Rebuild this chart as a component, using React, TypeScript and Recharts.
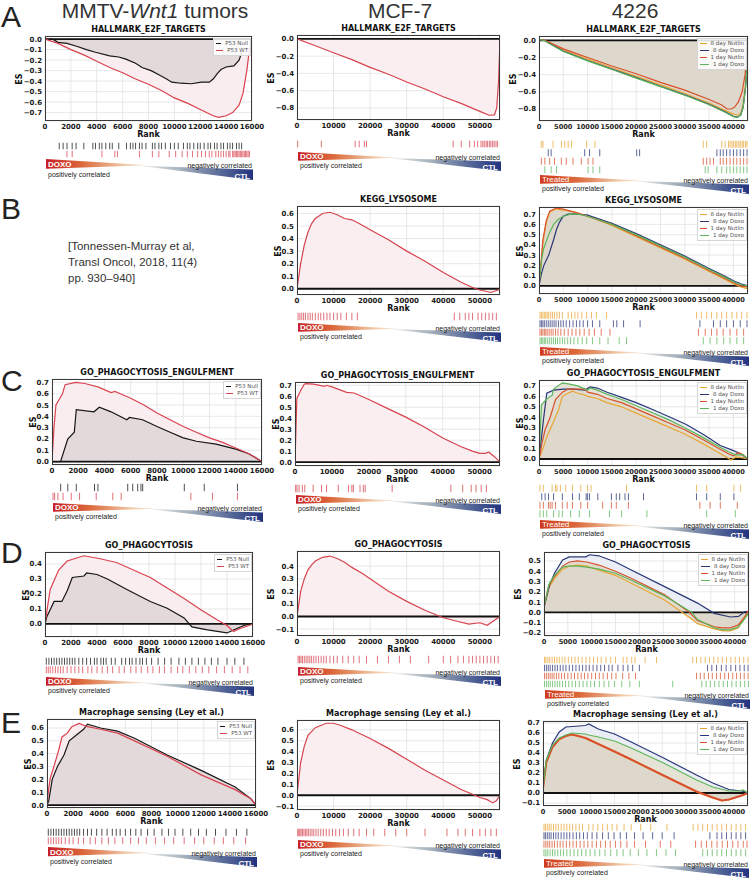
import React from "react";
import {
  ComposedChart,
  Area,
  Line,
  XAxis,
  YAxis,
  CartesianGrid,
  ReferenceLine,
  ScatterChart,
  Scatter,
} from "recharts";

type Pt = [number, number];

// tick labels
const col1Ticks = [0, 2000, 4000, 6000, 8000, 10000, 12000, 14000, 16000];
const col2Ticks = [0, 10000, 20000, 30000, 40000, 50000];
const col3Ticks = [0, 5000, 10000, 15000, 20000, 25000, 30000, 35000, 40000];

// ---------- A: HALLMARK_E2F_TARGETS ----------
const e2fWnt1Null: Pt[] = [[0, 0], [600, 0], [1000, -0.03], [1700, -0.04], [2500, -0.07], [3200, -0.1], [3900, -0.125], [5000, -0.16], [5700, -0.17], [6250, -0.19], [7000, -0.23], [7500, -0.27], [8200, -0.3], [8800, -0.34], [9400, -0.38], [9800, -0.41], [10500, -0.42], [11300, -0.425], [12100, -0.41], [12700, -0.41], [13000, -0.38], [13300, -0.33], [13600, -0.29], [14000, -0.265], [14600, -0.255], [15000, -0.2], [15200, -0.13]];
const e2fWnt1Wt: Pt[] = [[0, 0], [1000, -0.04], [2000, -0.1], [3000, -0.15], [4000, -0.21], [5000, -0.27], [6000, -0.32], [7000, -0.38], [8000, -0.43], [9000, -0.49], [10000, -0.56], [11000, -0.61], [12000, -0.67], [13000, -0.73], [13400, -0.745], [14000, -0.73], [14500, -0.7], [15000, -0.63], [15300, -0.52], [15600, -0.3], [15800, -0.1], [16000, 0]];
const e2fWnt1NullHits = [1100, 1400, 1700, 2100, 2400, 3000, 3700, 3900, 4200, 4400, 4700, 5000, 5200, 5700, 6300, 6600, 6800, 7000, 7300, 7500, 7800, 8300, 8500, 8800, 9000, 9300, 9700, 10000, 10300, 10700, 11000, 11200, 11500, 11800, 12000, 12300, 12600, 12800, 13100, 13300, 13600, 13800, 14100, 14300, 14500, 14800, 15000, 15200];
const e2fWnt1WtHits = [1700, 2100, 4400, 5400, 5600, 7300, 8300, 8800, 9600, 10100, 10600, 11000, 11400, 11800, 12100, 12400, 12700, 12900, 13200, 13400, 13600, 13800, 14000, 14200, 14300, 14500, 14600, 14700, 14800, 14900, 15000, 15100, 15200, 15300, 15400, 15500, 15600, 15700, 15800];

const e2fMcf7: Pt[] = [[0, 0], [5000, -0.08], [10000, -0.16], [15000, -0.24], [20000, -0.33], [25000, -0.41], [30000, -0.5], [35000, -0.58], [40000, -0.67], [45000, -0.75], [50000, -0.84], [52500, -0.885], [54000, -0.88], [54600, -0.8], [55100, -0.5], [55500, 0]];
const e2fMcf7Hits = [180, 6660, 15900, 17000, 18400, 19000, 42700, 44900, 47200, 48500, 49400, 50300, 50800, 51200, 51700, 52100, 52600, 53000, 53500, 53900, 54400, 54800];

const e2f4226N8: Pt[] = [[0, 0.01], [1000, 0], [2000, -0.025], [5000, -0.11], [10000, -0.22], [15000, -0.32], [20000, -0.42], [25000, -0.52], [30000, -0.62], [35000, -0.73], [38000, -0.81], [40000, -0.86], [40800, -0.87], [41500, -0.85], [42000, -0.75], [42500, -0.5], [42800, -0.25], [43000, -0.02]];
const e2f4226D8: Pt[] = [[0, 0.01], [1000, 0], [2000, -0.03], [5000, -0.125], [10000, -0.235], [15000, -0.335], [20000, -0.435], [25000, -0.535], [30000, -0.635], [35000, -0.745], [38000, -0.825], [40000, -0.885], [40800, -0.895], [41500, -0.87], [42000, -0.78], [42500, -0.55], [42800, -0.3], [43000, -0.05]];
const e2f4226N1: Pt[] = [[0, 0.01], [1000, 0.005], [2000, -0.02], [5000, -0.1], [10000, -0.2], [15000, -0.3], [20000, -0.39], [25000, -0.49], [30000, -0.58], [35000, -0.69], [37500, -0.75], [38700, -0.8], [39500, -0.8], [40200, -0.78], [41000, -0.72], [41800, -0.6], [42400, -0.4], [43000, -0.02]];
const e2f4226D1: Pt[] = [[0, 0.01], [1000, 0], [2000, -0.035], [5000, -0.13], [10000, -0.24], [15000, -0.34], [20000, -0.44], [25000, -0.54], [30000, -0.64], [35000, -0.75], [38000, -0.83], [40000, -0.89], [40800, -0.9], [41500, -0.87], [42000, -0.78], [42500, -0.55], [42800, -0.3], [43000, -0.05]];
const e2f4226N8Hits = [480, 820, 2900, 4600, 5300, 6000, 6700, 9800, 11500, 33800, 34500, 37600, 38300, 39000, 39300, 39700, 40000, 40400, 40700, 41100, 41400, 41800, 42100, 42500, 42800];
const e2f4226D8Hits = [1900, 2500, 9400, 10400, 12500, 20100, 20700, 36600, 37300, 37900, 38600, 39300, 40000, 40700, 41400, 42100, 42800];
const e2f4226N1Hits = [480, 1200, 2200, 3200, 4600, 5600, 7000, 8700, 10100, 11100, 33800, 34500, 35200, 35900, 37300, 37900, 38600, 39300, 40000, 40700, 41400, 42100, 42800];
const e2f4226D1Hits = [1200, 2500, 3600, 10100, 11100, 12500, 34200, 34800, 36600, 37600, 38600, 39300, 40000, 40700, 41400, 42100, 42800];

// ---------- B: KEGG_LYSOSOME ----------
const lysoMcf7: Pt[] = [[0, 0], [1000, 0.2], [2000, 0.35], [3000, 0.45], [4000, 0.52], [5000, 0.56], [7000, 0.6], [9000, 0.61], [11000, 0.59], [13000, 0.56], [15000, 0.55], [17000, 0.52], [20000, 0.47], [25000, 0.39], [30000, 0.3], [35000, 0.22], [40000, 0.13], [45000, 0.05], [48000, 0.01], [50000, -0.01], [53000, -0.03], [55000, -0.01], [55500, 0]];
const lysoMcf7Hits = [300, 800, 1300, 1800, 2300, 3000, 3600, 4200, 5000, 5800, 6500, 7300, 8200, 9000, 10000, 11000, 12000, 13500, 15000, 16500, 43000, 44500, 46000, 47000, 48000, 49500, 50500, 51500, 52500, 53500, 54500];

const lyso4226N8: Pt[] = [[0, 0], [400, 0.2], [800, 0.42], [1500, 0.62], [2200, 0.72], [3500, 0.75], [5000, 0.74], [6500, 0.73], [8000, 0.71], [10000, 0.68], [15000, 0.59], [20000, 0.48], [25000, 0.37], [30000, 0.26], [35000, 0.14], [38000, 0.07], [40000, 0.02], [41500, -0.01], [43000, -0.03]];
const lyso4226D8: Pt[] = [[0, 0], [500, 0.12], [1000, 0.2], [2000, 0.3], [3000, 0.45], [3600, 0.55], [4200, 0.62], [5000, 0.68], [6000, 0.7], [8000, 0.7], [10000, 0.69], [15000, 0.61], [20000, 0.51], [25000, 0.4], [30000, 0.29], [35000, 0.17], [38000, 0.1], [40000, 0.05], [41500, 0.02], [43000, 0]];
const lyso4226N1: Pt[] = [[0, 0], [400, 0.22], [800, 0.45], [1500, 0.64], [2200, 0.73], [3500, 0.76], [5000, 0.75], [6500, 0.73], [8000, 0.71], [10000, 0.68], [15000, 0.6], [20000, 0.49], [25000, 0.38], [30000, 0.27], [35000, 0.15], [38000, 0.08], [40000, 0.03], [41500, 0], [43000, -0.01]];
const lyso4226D1: Pt[] = [[0, 0], [500, 0.25], [1000, 0.37], [2000, 0.5], [3000, 0.6], [4000, 0.65], [5000, 0.68], [6500, 0.7], [8000, 0.7], [10000, 0.68], [15000, 0.6], [20000, 0.5], [25000, 0.39], [30000, 0.28], [35000, 0.16], [38000, 0.09], [40000, 0.04], [41500, 0.01], [43000, 0]];
const lyso4226N8Hits = [200, 500, 800, 1100, 1400, 1700, 2000, 2400, 2800, 3200, 3700, 4200, 4800, 6000, 6700, 7400, 8000, 8800, 9800, 10800, 11800, 13900, 32400, 33400, 34500, 35500, 36600, 37600, 38600, 39700, 40700, 41700, 42800];
const lyso4226D8Hits = [200, 500, 800, 1100, 1500, 1900, 2300, 2700, 3100, 3500, 4000, 4500, 5000, 5600, 6300, 7000, 7700, 8400, 9100, 10000, 11000, 12500, 15300, 16000, 17400, 20800, 33100, 35900, 37300, 38600, 40000, 41400, 42800];
const lyso4226N1Hits = [200, 500, 800, 1100, 1400, 1700, 2100, 2500, 2900, 3400, 3900, 4500, 5200, 6000, 6800, 7600, 8400, 9300, 10300, 11400, 12800, 14600, 32800, 34200, 35500, 36600, 37900, 39300, 40700, 42100];
const lyso4226D1Hits = [200, 500, 800, 1100, 1400, 1800, 2200, 2600, 3000, 3400, 3800, 4300, 4800, 5300, 5900, 6500, 7200, 8000, 8900, 9800, 11000, 12500, 14200, 16500, 18000, 33800, 35200, 36600, 38000, 39300, 40700, 42100];

// ---------- C: GO_PHAGOCYTOSIS_ENGULFMENT ----------
const engWnt1Null: Pt[] = [[0, 0], [650, 0], [1200, 0.2], [1700, 0.26], [1850, 0.46], [3200, 0.44], [3600, 0.48], [4500, 0.44], [5700, 0.37], [5900, 0.39], [6900, 0.37], [8000, 0.31], [9000, 0.26], [10000, 0.21], [11000, 0.18], [12500, 0.155], [14000, 0.11], [15000, 0.07], [16000, 0]];
const engWnt1Wt: Pt[] = [[0, 0], [150, 0.3], [300, 0.5], [800, 0.6], [1000, 0.68], [1800, 0.7], [2500, 0.69], [3500, 0.66], [4500, 0.61], [4800, 0.62], [5200, 0.6], [6000, 0.56], [7000, 0.5], [8000, 0.43], [9000, 0.37], [10000, 0.31], [11000, 0.26], [12000, 0.21], [13000, 0.17], [14000, 0.12], [15000, 0.07], [16000, 0]];
const engWnt1NullHits = [660, 1200, 1850, 3240, 3500, 5770, 6150, 6530, 6780, 6910, 10080, 11600, 14130];
const engWnt1WtHits = [80, 200, 450, 840, 1470, 2100, 3370, 4630, 5270, 10580, 12230, 14130];

const engMcf7: Pt[] = [[0, 0], [500, 0.58], [1500, 0.65], [2500, 0.71], [3000, 0.715], [5000, 0.71], [8000, 0.69], [8500, 0.7], [10000, 0.685], [12000, 0.66], [14000, 0.635], [16000, 0.63], [18000, 0.6], [20000, 0.57], [25000, 0.49], [30000, 0.41], [35000, 0.32], [40000, 0.22], [45000, 0.14], [48000, 0.1], [50000, 0.08], [51500, 0.08], [52500, 0.09], [54000, 0.05], [55500, 0]];
const engMcf7Hits = [180, 550, 1100, 2000, 2640, 4900, 7190, 8550, 11700, 14500, 15400, 15800, 17600, 18500, 19000, 26300, 42200, 45400, 47700, 49000, 50400, 51800];

const eng4226N8: Pt[] = [[0, 0], [800, 0.1], [1600, 0.21], [3000, 0.36], [4000, 0.47], [4800, 0.6], [5500, 0.62], [6900, 0.65], [8000, 0.63], [9000, 0.62], [10000, 0.6], [12000, 0.58], [14000, 0.54], [17000, 0.5], [20000, 0.44], [23000, 0.38], [26500, 0.31], [30000, 0.24], [34000, 0.14], [37000, 0.06], [38500, 0.02], [39500, -0.01], [40500, 0.02], [42000, 0.01], [43000, 0]];
const eng4226D8: Pt[] = [[0, 0], [500, 0.2], [900, 0.37], [1600, 0.63], [3000, 0.66], [5000, 0.67], [7000, 0.67], [9500, 0.66], [10500, 0.69], [12000, 0.68], [14000, 0.64], [17000, 0.59], [20000, 0.54], [23600, 0.47], [27000, 0.4], [30300, 0.33], [34000, 0.23], [37300, 0.13], [40000, 0.08], [41500, 0.05], [43000, 0]];
const eng4226N1: Pt[] = [[0, 0], [600, 0.15], [1250, 0.28], [2300, 0.4], [3400, 0.57], [4800, 0.64], [6000, 0.67], [8000, 0.67], [9500, 0.67], [10000, 0.64], [12000, 0.62], [14000, 0.58], [17000, 0.54], [20000, 0.48], [23000, 0.42], [26500, 0.35], [30000, 0.28], [34000, 0.18], [37000, 0.1], [39000, 0.05], [40000, 0.03], [41000, 0.06], [42000, 0.04], [43000, 0]];
const eng4226D1: Pt[] = [[0, 0], [500, 0.52], [1500, 0.57], [2300, 0.6], [2700, 0.61], [3000, 0.67], [4800, 0.73], [6000, 0.72], [8000, 0.7], [9500, 0.67], [10000, 0.66], [10500, 0.68], [12000, 0.66], [14000, 0.62], [17000, 0.57], [20000, 0.51], [23000, 0.45], [26500, 0.38], [30000, 0.3], [34000, 0.2], [37000, 0.12], [39000, 0.07], [40500, 0.04], [42000, 0.04], [43000, 0]];
const eng4226N8Hits = [200, 900, 2700, 3400, 3700, 4400, 5500, 6900, 8600, 10000, 10700, 18000, 32400, 34500, 40100, 41500];
const eng4226D8Hits = [560, 1260, 1960, 3000, 4800, 6900, 8300, 9700, 10000, 10400, 12100, 14900, 15900, 16600, 17700, 18400, 21500, 32400, 34500, 37300, 40100];
const eng4226N1Hits = [200, 900, 1960, 2300, 2700, 3400, 4800, 5800, 6900, 8600, 10000, 13100, 14900, 15900, 18400, 33100, 35200, 37300, 40800];
const eng4226D1Hits = [200, 900, 1600, 3000, 4100, 4800, 6500, 8300, 10400, 14500, 17000, 22200, 34500, 40400];

// ---------- D: GO_PHAGOCYTOSIS ----------
const phagWnt1Null: Pt[] = [[0, 0], [150, 0.05], [700, 0.15], [1300, 0.15], [1700, 0.22], [2100, 0.31], [3000, 0.32], [3200, 0.34], [4000, 0.33], [4800, 0.3], [6300, 0.23], [8100, 0.15], [9400, 0.105], [10700, 0.04], [11300, -0.02], [12500, -0.04], [14000, -0.06], [14500, -0.04], [15300, -0.01], [15800, 0], [16000, 0]];
const phagWnt1Wt: Pt[] = [[0, 0], [150, 0.09], [400, 0.23], [1050, 0.36], [1700, 0.42], [3000, 0.455], [4250, 0.435], [5500, 0.41], [6800, 0.36], [8100, 0.31], [9400, 0.24], [10700, 0.17], [11900, 0.1], [13200, 0.03], [14000, -0.01], [14500, -0.05], [15000, -0.03], [15700, -0.01], [16000, 0]];
const phagWnt1NullHits = [100, 300, 500, 700, 900, 1100, 1300, 1500, 1700, 1900, 2100, 2300, 2600, 2900, 3200, 3500, 3800, 4000, 4300, 4500, 4700, 5100, 5400, 5900, 6200, 6500, 6700, 7000, 7300, 7500, 7800, 8200, 8700, 9200, 9700, 10300, 10800, 11300, 11800, 12300, 12800, 13300, 14000, 14600, 15300];
const phagWnt1WtHits = [100, 250, 400, 600, 800, 1000, 1200, 1400, 1700, 2000, 2300, 2600, 2900, 3300, 3600, 4000, 4400, 4800, 5200, 5700, 6100, 6600, 7000, 7400, 7900, 8300, 8800, 9200, 9700, 10200, 10600, 11100, 11600, 12100, 12600, 13200, 13800, 14400, 15000, 15600];

const phagMcf7: Pt[] = [[0, 0], [1000, 0.2], [2000, 0.3], [3000, 0.37], [4000, 0.41], [5000, 0.44], [7000, 0.47], [9000, 0.48], [11000, 0.46], [13000, 0.43], [15000, 0.39], [18000, 0.34], [21000, 0.28], [25000, 0.2], [30000, 0.12], [35000, 0.05], [40000, -0.01], [44000, -0.04], [47000, -0.06], [50000, -0.05], [52000, -0.07], [54000, -0.03], [55500, 0]];
const phagMcf7Hits = [300, 700, 1100, 1500, 2000, 2500, 3000, 3500, 4000, 4600, 5200, 5900, 6600, 7300, 8000, 9000, 10000, 11000, 12500, 14000, 15500, 17000, 19000, 22000, 25000, 28000, 31000, 36000, 40000, 42000, 44000, 45500, 47000, 48000, 49000, 50000, 51000, 52000, 53000, 54000, 55000];

const phag4226N8: Pt[] = [[0, 0.05], [1000, 0.24], [2200, 0.33], [3900, 0.42], [5300, 0.45], [7000, 0.46], [9000, 0.45], [11500, 0.41], [15000, 0.36], [18400, 0.28], [25300, 0.12], [30500, -0.05], [32200, -0.11], [35700, -0.16], [37500, -0.18], [39100, -0.18], [40800, -0.15], [42000, -0.05], [43000, 0]];
const phag4226D8: Pt[] = [[0, 0.05], [1200, 0.27], [2200, 0.38], [3900, 0.51], [5300, 0.54], [8800, 0.54], [9500, 0.56], [11500, 0.55], [15000, 0.49], [18400, 0.41], [25300, 0.25], [32200, 0.09], [35700, -0.01], [39100, -0.045], [40800, -0.04], [42200, 0.01], [43000, 0]];
const phag4226N1: Pt[] = [[0, 0.05], [1000, 0.26], [2200, 0.35], [3900, 0.45], [5300, 0.49], [7000, 0.5], [9000, 0.49], [11500, 0.46], [15000, 0.4], [18400, 0.33], [25300, 0.17], [30500, 0], [32200, -0.08], [35700, -0.14], [37500, -0.15], [39100, -0.15], [40800, -0.12], [42000, -0.05], [42800, 0.01], [43000, 0]];
const phag4226D1: Pt[] = [[0, 0.05], [1000, 0.27], [2200, 0.36], [3900, 0.44], [5300, 0.45], [7000, 0.45], [9000, 0.44], [11500, 0.42], [15000, 0.38], [18400, 0.31], [25300, 0.16], [31000, 0], [32200, -0.07], [35700, -0.15], [37500, -0.17], [39100, -0.17], [40800, -0.14], [42000, -0.07], [43000, 0]];
const phag4226N8Hits = [100, 400, 800, 1200, 1700, 2200, 2700, 3200, 3800, 4400, 5100, 5800, 6500, 7200, 8000, 8800, 9600, 10400, 11200, 12000, 13000, 14000, 15000, 16600, 17400, 18400, 19100, 21200, 23600, 31200, 32000, 32900, 33800, 34700, 35600, 36500, 37400, 38300, 39200, 40100, 41000, 41900, 42800];
const phag4226D8Hits = [100, 500, 900, 1300, 1800, 2300, 2800, 3400, 4000, 4600, 5300, 6000, 6700, 7400, 8100, 8800, 9500, 10300, 11100, 11900, 12700, 13600, 14300, 15500, 16600, 17600, 18600, 20000, 34300, 35200, 36200, 37200, 38200, 39200, 40200, 41100, 42000, 42800];
const phag4226N1Hits = [100, 500, 900, 1300, 1700, 2100, 2600, 3100, 3700, 4300, 5000, 5700, 6400, 7100, 7800, 8500, 9200, 10000, 10800, 11600, 12400, 13300, 14200, 15100, 16500, 17800, 19200, 32000, 32800, 33600, 34500, 35300, 36200, 37000, 37900, 38700, 39600, 40400, 41200, 42000, 42800];
const phag4226D1Hits = [100, 500, 900, 1300, 1800, 2300, 2800, 3300, 3900, 4500, 5200, 5900, 6600, 7400, 8200, 9000, 9800, 10600, 11600, 12600, 13600, 14800, 16300, 18000, 20000, 27000, 33100, 34000, 34900, 35800, 36700, 37600, 38500, 39400, 40300, 41200, 42100, 42900];

// ---------- E: Macrophage sensing (Ley et al.) ----------
const macWnt1Null: Pt[] = [[0, 0], [130, 0.03], [400, 0.2], [800, 0.3], [1300, 0.39], [1700, 0.5], [2300, 0.55], [2800, 0.59], [3100, 0.63], [4100, 0.6], [5400, 0.575], [6700, 0.52], [9200, 0.39], [11800, 0.27], [14400, 0.14], [15600, 0.05], [16000, 0]];
const macWnt1Wt: Pt[] = [[0, 0], [130, 0.13], [250, 0.21], [500, 0.29], [900, 0.43], [1150, 0.53], [1550, 0.56], [1900, 0.61], [2450, 0.635], [3100, 0.61], [4100, 0.59], [5400, 0.56], [6700, 0.5], [9200, 0.38], [11800, 0.235], [14400, 0.12], [15600, 0.05], [16000, 0]];
const macWnt1NullHits = [100, 300, 500, 700, 900, 1100, 1300, 1500, 1700, 1900, 2100, 2300, 2500, 2800, 3100, 3400, 3800, 4200, 4600, 5000, 5300, 5600, 6000, 6400, 6800, 7200, 7700, 8200, 8800, 9300, 9800, 10400, 11000, 11600, 12200, 12900, 13700, 14500, 15300];
const macWnt1WtHits = [100, 300, 500, 700, 900, 1100, 1400, 1700, 2000, 2400, 2800, 3300, 3700, 4200, 4700, 5200, 5800, 6400, 7000, 7600, 8300, 9000, 9700, 10500, 11300, 12000, 12800, 13500, 14300, 15200];

const macMcf7: Pt[] = [[0, 0], [1000, 0.3], [2000, 0.45], [3000, 0.55], [5000, 0.62], [8000, 0.66], [10000, 0.66], [12000, 0.64], [15000, 0.6], [20000, 0.52], [25000, 0.43], [30000, 0.33], [35000, 0.23], [40000, 0.14], [45000, 0.05], [48000, 0.01], [50000, -0.02], [52000, -0.04], [53500, -0.07], [54500, -0.05], [55500, 0]];
const macMcf7Hits = [200, 500, 800, 1100, 1500, 1900, 2300, 2700, 3100, 3600, 4100, 4600, 5200, 5800, 6500, 7200, 8000, 8800, 9700, 10600, 11600, 12700, 14000, 15500, 17000, 19000, 21000, 24000, 27000, 30000, 35000, 41000, 44000, 46000, 48000, 50000, 51500, 53000, 54500];

const mac4226N8: Pt[] = [[0, 0.05], [700, 0.3], [2000, 0.46], [3400, 0.53], [4800, 0.57], [6000, 0.58], [7000, 0.57], [8900, 0.55], [9600, 0.53], [11600, 0.49], [15000, 0.41], [18500, 0.33], [25300, 0.17], [32200, 0.01], [35600, -0.05], [37500, -0.08], [39000, -0.07], [40700, -0.04], [42000, -0.02], [43000, 0]];
const mac4226D8: Pt[] = [[0, 0.05], [700, 0.33], [2000, 0.5], [3400, 0.61], [4800, 0.66], [8900, 0.675], [9600, 0.69], [11600, 0.64], [15000, 0.59], [18500, 0.51], [25300, 0.35], [32200, 0.18], [35600, 0.1], [39000, 0.035], [40700, 0.025], [41800, 0.02], [43000, 0]];
const mac4226N1: Pt[] = [[0, 0.05], [700, 0.31], [2000, 0.46], [3400, 0.54], [4800, 0.57], [6000, 0.585], [7000, 0.575], [8900, 0.55], [9600, 0.535], [11600, 0.49], [15000, 0.415], [18500, 0.335], [25300, 0.175], [32200, 0.015], [35600, -0.045], [37500, -0.075], [39000, -0.065], [40700, -0.04], [42000, -0.02], [43000, 0]];
const mac4226D1: Pt[] = [[0, 0.05], [700, 0.33], [2000, 0.48], [3400, 0.55], [4800, 0.58], [6000, 0.6], [8900, 0.59], [9600, 0.58], [11600, 0.56], [15000, 0.52], [18500, 0.45], [25300, 0.3], [32200, 0.13], [35600, 0.06], [39000, 0.02], [41000, 0.02], [42000, 0.03], [43000, 0]];
const mac4226N8Hits = [200, 500, 900, 1300, 1700, 2200, 2700, 3200, 3800, 4400, 5000, 5600, 6200, 6900, 7600, 8300, 9600, 10500, 11500, 12500, 13500, 14500, 15500, 17000, 18500, 20500, 22600, 26000, 31500, 32500, 33500, 34500, 35500, 36500, 37500, 38500, 39500, 40500, 41500, 42500];
const mac4226D8Hits = [200, 500, 900, 1300, 1700, 2200, 2700, 3200, 3800, 4400, 5000, 5600, 6300, 7000, 7700, 8500, 9300, 10300, 11300, 12500, 13700, 14900, 16200, 17500, 19200, 21000, 23000, 25000, 27500, 35000, 36500, 37500, 38500, 39500, 40500, 41500, 42500];
const mac4226N1Hits = [200, 600, 1000, 1400, 1900, 2400, 3000, 3600, 4200, 4900, 5600, 6300, 7000, 7800, 8600, 9400, 10300, 11200, 12100, 13100, 14100, 15200, 16300, 17600, 19200, 21500, 24600, 26800, 32000, 33200, 34300, 35400, 36500, 37600, 38700, 39800, 40900, 42000, 42800];
const mac4226D1Hits = [200, 600, 1000, 1500, 2000, 2500, 3100, 3700, 4300, 5000, 5700, 6500, 7300, 8100, 9000, 9900, 10900, 11900, 13000, 14200, 15500, 16800, 18300, 20000, 21800, 23800, 25800, 27800, 33500, 34500, 35500, 36500, 37500, 38500, 39500, 40500, 41500, 42500];

// ---------- styling ----------
const TICK_FONT = "DejaVu Sans";
const ARIAL = "Liberation Sans, Arial, sans-serif";

interface Series {
  name: string;
  color: string;
  fill: string;
  z: number;
  pts: Pt[];
  hits: number[];
  width?: number;
}

interface Panel {
  title: string;
  x: number;
  y: number;
  w: number;
  h: number;
  xMax: number;
  xTicks: number[];
  xFont: number;
  yDom: [number, number];
  yTicks: number[];
  series: Series[];
  legendW?: number;
  rugTop: number;
  rowH: number;
  gradTop: number;
  gradH: number;
  treat: string;
}

const wnt1 = (nullPts: Pt[], nullHits: number[], wtPts: Pt[], wtHits: number[]): Series[] => [
  { name: "P53 Null", color: "#161616", fill: "#e3d9db", z: 1, pts: nullPts, hits: nullHits },
  { name: "P53 WT", color: "#d9424f", fill: "#f9edef", z: 0, pts: wtPts, hits: wtHits },
];

const mcf7 = (pts: Pt[], hits: number[]): Series[] => [
  { name: "MCF-7", color: "#d5434e", fill: "#fbeef0", z: 0, pts, hits },
];

const c4226 = (
  n8: Pt[], d8: Pt[], n1: Pt[], d1: Pt[],
  n8h: number[], d8h: number[], n1h: number[], d1h: number[], thickN1 = false
): Series[] => [
  { name: "8 day Nutlin", color: "#e9a534", fill: "#ddd8cb", z: 3, pts: n8, hits: n8h },
  { name: "8 day Doxo", color: "#2a3777", fill: "#eaedf3", z: 0, pts: d8, hits: d8h },
  { name: "1 day Nutlin", color: "#d8502c", fill: "#dfdbce", z: 2, pts: n1, hits: n1h, width: thickN1 ? 2 : 1.2 },
  { name: "1 day Doxo", color: "#5bb55b", fill: "#e4e3d5", z: 1, pts: d1, hits: d1h },
];

const panels: Panel[] = [
  // row A
  { title: "HALLMARK_E2F_TARGETS", x: 45, y: 36, w: 207, h: 85, xMax: 16000, xTicks: col1Ticks, xFont: 7, yDom: [-0.78, 0.03], yTicks: [0, -0.1, -0.2, -0.3, -0.4, -0.5, -0.6, -0.7], series: wnt1(e2fWnt1Null, e2fWnt1NullHits, e2fWnt1Wt, e2fWnt1WtHits), legendW: 38, rugTop: 142, rowH: 8, gradTop: 159, gradH: 21, treat: "DOXO" },
  { title: "HALLMARK_E2F_TARGETS", x: 297, y: 35, w: 203, h: 85, xMax: 55500, xTicks: col2Ticks, xFont: 7, yDom: [-0.94, 0.045], yTicks: [0, -0.2, -0.4, -0.6, -0.8], series: mcf7(e2fMcf7, e2fMcf7Hits), rugTop: 140, rowH: 8, gradTop: 152, gradH: 19, treat: "DOXO" },
  { title: "HALLMARK_E2F_TARGETS", x: 539, y: 36, w: 209, h: 85, xMax: 43000, xTicks: col3Ticks, xFont: 6.6, yDom: [-0.94, 0.05], yTicks: [0, -0.2, -0.4, -0.6, -0.8], series: c4226(e2f4226N8, e2f4226D8, e2f4226N1, e2f4226D1, e2f4226N8Hits, e2f4226D8Hits, e2f4226N1Hits, e2f4226D1Hits), legendW: 50, rugTop: 140, rowH: 8.5, gradTop: 175, gradH: 19, treat: "Treated" },
  // row B
  { title: "KEGG_LYSOSOME", x: 297, y: 206, w: 203, h: 89, xMax: 55500, xTicks: col2Ticks, xFont: 7, yDom: [-0.05, 0.66], yTicks: [0, 0.1, 0.2, 0.3, 0.4, 0.5, 0.6], series: mcf7(lysoMcf7, lysoMcf7Hits), rugTop: 312, rowH: 9, gradTop: 323, gradH: 19, treat: "DOXO" },
  { title: "KEGG_LYSOSOME", x: 539, y: 207, w: 209, h: 87, xMax: 43000, xTicks: col3Ticks, xFont: 6.6, yDom: [-0.08, 0.77], yTicks: [0, 0.1, 0.2, 0.3, 0.4, 0.5, 0.6, 0.7], series: c4226(lyso4226N8, lyso4226D8, lyso4226N1, lyso4226D1, lyso4226N8Hits, lyso4226D8Hits, lyso4226N1Hits, lyso4226D1Hits), legendW: 50, rugTop: 311, rowH: 8.5, gradTop: 347, gradH: 19, treat: "Treated" },
  // row C
  { title: "GO_PHAGOCYTOSIS_ENGULFMENT", x: 52, y: 379, w: 210, h: 86, xMax: 16000, xTicks: col1Ticks, xFont: 7, yDom: [-0.03, 0.73], yTicks: [0, 0.1, 0.2, 0.3, 0.4, 0.5, 0.6, 0.7], series: wnt1(engWnt1Null, engWnt1NullHits, engWnt1Wt, engWnt1WtHits), legendW: 38, rugTop: 483, rowH: 9, gradTop: 503, gradH: 19, treat: "DOXO" },
  { title: "GO_PHAGOCYTOSIS_ENGULFMENT", x: 295, y: 382, w: 205, h: 84, xMax: 55500, xTicks: col2Ticks, xFont: 7, yDom: [-0.035, 0.73], yTicks: [0, 0.1, 0.2, 0.3, 0.4, 0.5, 0.6, 0.7], series: mcf7(engMcf7, engMcf7Hits), rugTop: 484, rowH: 9, gradTop: 495, gradH: 19, treat: "DOXO" },
  { title: "GO_PHAGOCYTOSIS_ENGULFMENT", x: 539, y: 380, w: 209, h: 86, xMax: 43000, xTicks: col3Ticks, xFont: 6.6, yDom: [-0.067, 0.757], yTicks: [0, 0.1, 0.2, 0.3, 0.4, 0.5, 0.6, 0.7], series: c4226(eng4226N8, eng4226D8, eng4226N1, eng4226D1, eng4226N8Hits, eng4226D8Hits, eng4226N1Hits, eng4226D1Hits), legendW: 50, rugTop: 484, rowH: 8.5, gradTop: 520, gradH: 19, treat: "Treated" },
  // row D
  { title: "GO_PHAGOCYTOSIS", x: 45, y: 552, w: 208, h: 85, xMax: 16000, xTicks: col1Ticks, xFont: 7, yDom: [-0.087, 0.48], yTicks: [0, 0.1, 0.2, 0.3, 0.4], series: wnt1(phagWnt1Null, phagWnt1NullHits, phagWnt1Wt, phagWnt1WtHits), legendW: 38, rugTop: 657, rowH: 8.5, gradTop: 677, gradH: 19, treat: "DOXO" },
  { title: "GO_PHAGOCYTOSIS", x: 297, y: 551, w: 203, h: 85, xMax: 55500, xTicks: col2Ticks, xFont: 7, yDom: [-0.155, 0.52], yTicks: [-0.1, 0, 0.1, 0.2, 0.3, 0.4], series: mcf7(phagMcf7, phagMcf7Hits), rugTop: 655, rowH: 9, gradTop: 667, gradH: 19, treat: "DOXO" },
  { title: "GO_PHAGOCYTOSIS", x: 544, y: 552, w: 205, h: 84, xMax: 43000, xTicks: col3Ticks, xFont: 6.6, yDom: [-0.23, 0.587], yTicks: [-0.2, -0.1, 0, 0.1, 0.2, 0.3, 0.4, 0.5], series: c4226(phag4226N8, phag4226D8, phag4226N1, phag4226D1, phag4226N8Hits, phag4226D8Hits, phag4226N1Hits, phag4226D1Hits), legendW: 50, rugTop: 656, rowH: 8, gradTop: 690, gradH: 19, treat: "Treated" },
  // row E
  { title: "Macrophage sensing (Ley et al.)", x: 47, y: 719, w: 209, h: 89, xMax: 16000, xTicks: col1Ticks, xFont: 7, yDom: [-0.023, 0.67], yTicks: [0, 0.1, 0.2, 0.3, 0.4, 0.5, 0.6], series: wnt1(macWnt1Null, macWnt1NullHits, macWnt1Wt, macWnt1WtHits), legendW: 38, rugTop: 828, rowH: 8.5, gradTop: 847, gradH: 20, treat: "DOXO" },
  { title: "Macrophage sensing (Ley et al.)", x: 297, y: 720, w: 203, h: 90, xMax: 55500, xTicks: col2Ticks, xFont: 7, yDom: [-0.135, 0.69], yTicks: [-0.1, 0, 0.1, 0.2, 0.3, 0.4, 0.5, 0.6], series: mcf7(macMcf7, macMcf7Hits), rugTop: 828, rowH: 9, gradTop: 840, gradH: 19, treat: "DOXO" },
  { title: "Macrophage sensing (Ley et al.)", x: 543, y: 721, w: 205, h: 85, xMax: 43000, xTicks: col3Ticks, xFont: 6.6, yDom: [-0.13, 0.72], yTicks: [-0.1, 0, 0.1, 0.2, 0.3, 0.4, 0.5, 0.6, 0.7], series: c4226(mac4226N8, mac4226D8, mac4226N1, mac4226D1, mac4226N8Hits, mac4226D8Hits, mac4226N1Hits, mac4226D1Hits, true), legendW: 50, rugTop: 823, rowH: 8.5, gradTop: 859, gradH: 19, treat: "Treated" },
];

const fmtY = (v: number) => v.toFixed(1).replace("-", "\u2212");
const toRows = (pts: Pt[]) => pts.map(([rank, es]) => ({ rank, es }));

function CorrBar({ x, y, w, h, treat }: { x: number; y: number; w: number; h: number; treat: string }) {
  const id = `cb${x}_${y}`;
  const startRed = treat === "DOXO" ? "#c61f27" : "#cf3a1c";
  return (
    <svg style={{ position: "absolute", left: x, top: y }} width={w} height={h}>
      <defs>
        <linearGradient id={id + "l"} x1="0" x2="1" y1="0" y2="0">
          <stop offset="0" stopColor={startRed} />
          <stop offset="0.35" stopColor="#dc6a3c" />
          <stop offset="0.75" stopColor="#f0c9a8" />
          <stop offset="1" stopColor="#f7eee6" />
        </linearGradient>
        <linearGradient id={id + "r"} x1="0" x2="1" y1="0" y2="0">
          <stop offset="0" stopColor="#eef0ee" />
          <stop offset="0.35" stopColor="#a9b4bd" />
          <stop offset="0.7" stopColor="#5a6c9a" />
          <stop offset="1" stopColor="#22337f" />
        </linearGradient>
      </defs>
      <polygon points={`0,0 ${w * 0.5},${h * 0.3} 0,${h * 0.46}`} fill={`url(#${id}l)`} />
      <polygon points={`${w * 0.45},${h * 0.32} ${w},${h * 0.5} ${w},${h}`} fill={`url(#${id}r)`} />
      <text x={2} y={h * 0.38} fill="#fff" fontSize={8} fontWeight={treat === "DOXO" ? "bold" : "normal"} fontFamily={ARIAL}>{treat}</text>
      <text x={2} y={h * 0.86} fill="#222" fontSize={7} fontFamily={ARIAL}>positively correlated</text>
      <text x={w - 1} y={h * 0.44} fill="#222" fontSize={7} fontFamily={ARIAL} textAnchor="end">negatively correlated</text>
      <text x={w - 3} y={h * 0.95} fill="#fff" fontSize={8} fontWeight="bold" fontFamily={ARIAL} textAnchor="end">CTL</text>
    </svg>
  );
}

function Rug({ p }: { p: Panel }) {
  const n = p.series.length;
  const tickH = p.rowH - 1.5;
  return (
    <div style={{ position: "absolute", left: p.x, top: p.rugTop }}>
      <ScatterChart width={p.w} height={n * p.rowH} margin={{ top: 0, right: 0, bottom: 0, left: 0 }}>
        <XAxis type="number" dataKey="rank" domain={[0, p.xMax]} hide allowDataOverflow />
        <YAxis type="number" dataKey="row" domain={[-0.5, n - 0.5]} reversed hide />
        {p.series.map((s, i) => (
          <Scatter
            key={s.name}
            data={s.hits.map((rank) => ({ rank, row: i }))}
            fill={s.color}
            isAnimationActive={false}
            shape={(props: any) => (
              <line x1={props.cx} x2={props.cx} y1={props.cy - tickH / 2} y2={props.cy + tickH / 2} stroke={s.color} strokeOpacity={0.75} strokeWidth={1} />
            )}
          />
        ))}
      </ScatterChart>
    </div>
  );
}

function LegendBox({ p }: { p: Panel }) {
  if (!p.legendW) return null;
  return (
    <div
      style={{
        position: "absolute",
        left: p.x + p.w - p.legendW - 1,
        top: p.y + 2,
        width: p.legendW,
        border: "1px solid #d6d6d6",
        background: "rgba(255,255,255,0.85)",
        fontFamily: TICK_FONT,
        fontSize: 5.5,
        lineHeight: "7px",
        color: "#555",
        padding: "1px 2px",
        boxSizing: "border-box",
      }}
    >
      {p.series.map((s) => (
        <div key={s.name} style={{ display: "flex", alignItems: "center", whiteSpace: "nowrap" }}>
          <span style={{ display: "inline-block", width: 10, height: 1.5, background: s.color, marginRight: 4 }} />
          {s.name}
        </div>
      ))}
    </div>
  );
}

function GseaPanel({ p }: { p: Panel }) {
  const YW = 28;
  const XH = 14;
  const TOP = 5;
  const RIGHT = 14;
  const areas = [...p.series].sort((a, b) => a.z - b.z);
  const esOffset = p.yTicks.some((t) => t < 0) ? 25 : 18;
  return (
    <>
      <div style={{ position: "absolute", left: p.x - 20, width: p.w + 40, top: p.y - 11, textAlign: "center", fontFamily: TICK_FONT, fontWeight: "bold", fontSize: 8, lineHeight: "10px", color: "#111", whiteSpace: "nowrap" }}>
        {p.title}
      </div>
      <div style={{ position: "absolute", left: p.x - YW, top: p.y - TOP }}>
        <ComposedChart width={p.w + YW + RIGHT} height={p.h + XH + TOP} margin={{ top: TOP, right: RIGHT, bottom: 0, left: 0 }}>
          <CartesianGrid stroke="#e2e2e2" strokeWidth={0.8} />
          <XAxis
            type="number"
            dataKey="rank"
            domain={[0, p.xMax]}
            ticks={p.xTicks}
            interval={0}
            height={XH}
            tickLine={false}
            tickSize={0}
            axisLine={false}
            tickMargin={3}
            allowDataOverflow
            tick={{ fontSize: p.xFont, fontWeight: "bold", fontFamily: TICK_FONT, fill: "#1a1a1a" }}
          />
          <YAxis
            type="number"
            dataKey="es"
            domain={p.yDom}
            ticks={p.yTicks}
            interval={0}
            width={YW}
            tickLine={false}
            tickSize={0}
            axisLine={false}
            tickMargin={3}
            allowDataOverflow
            tickFormatter={fmtY}
            tick={{ fontSize: 7, fontWeight: "bold", fontFamily: TICK_FONT, fill: "#1a1a1a" }}
          />
          {areas.map((s) => (
            <Area key={"a" + s.name} data={toRows(s.pts)} dataKey="es" type="linear" stroke="none" fill={s.fill} fillOpacity={1} baseValue={0} isAnimationActive={false} />
          ))}
          <ReferenceLine y={0} stroke="#111" strokeWidth={1.8} />
          {p.series.map((s) => (
            <Line key={"l" + s.name} data={toRows(s.pts)} dataKey="es" type="linear" stroke={s.color} strokeWidth={s.width ?? 1.2} dot={false} isAnimationActive={false} />
          ))}
        </ComposedChart>
      </div>
      <div style={{ position: "absolute", left: p.x, top: p.y, width: p.w, height: p.h, border: "1px solid #3a3a3a", boxSizing: "border-box", pointerEvents: "none" }} />
      <div style={{ position: "absolute", left: p.x - esOffset - 10, top: p.y + p.h / 2 - 5, width: 20, height: 10, lineHeight: "10px", textAlign: "center", transform: "rotate(-90deg)", fontFamily: TICK_FONT, fontWeight: "bold", fontSize: 8, color: "#111" }}>
        ES
      </div>
      <div style={{ position: "absolute", left: p.x, width: p.w, top: p.y + p.h + 9, textAlign: "center", fontFamily: TICK_FONT, fontWeight: "bold", fontSize: 8, lineHeight: "10px", color: "#111" }}>
        Rank
      </div>
      <LegendBox p={p} />
      <Rug p={p} />
      <CorrBar x={p.x + 1} y={p.gradTop} w={p.w} h={p.gradH} treat={p.treat} />
    </>
  );
}

const letters: [string, number][] = [["A", 0], ["B", 192], ["C", 364], ["D", 536], ["E", 706]];

export default function App() {
  return (
    <div style={{ position: "absolute", left: 0, top: 0, width: 752, height: 880, background: "#fff", overflow: "hidden" }}>
      <div style={{ position: "absolute", left: 0, width: 310, top: 0, textAlign: "center", fontFamily: ARIAL, fontSize: 21, lineHeight: "22px", color: "#333", whiteSpace: "nowrap" }}>
        MMTV-<i>Wnt1</i> tumors
      </div>
      <div style={{ position: "absolute", left: 300, width: 200, top: 0, textAlign: "center", fontFamily: ARIAL, fontSize: 21, lineHeight: "22px", color: "#333" }}>
        MCF-7
      </div>
      <div style={{ position: "absolute", left: 535, width: 200, top: 0, textAlign: "center", fontFamily: ARIAL, fontSize: 21, lineHeight: "22px", color: "#333" }}>
        4226
      </div>
      {letters.map(([l, t]) => (
        <div key={l} style={{ position: "absolute", left: 1, top: t, fontFamily: ARIAL, fontSize: 30, lineHeight: "34px", color: "#222" }}>
          {l}
        </div>
      ))}
      <div style={{ position: "absolute", left: 68, top: 238, fontFamily: ARIAL, fontSize: 11.5, lineHeight: "16px", color: "#333" }}>
        [Tonnessen-Murray et al,
        <br />
        Transl Oncol, 2018, 11(4)
        <br />
        pp. 930–940]
      </div>
      {panels.map((p, i) => (
        <GseaPanel key={i} p={p} />
      ))}
    </div>
  );
}
